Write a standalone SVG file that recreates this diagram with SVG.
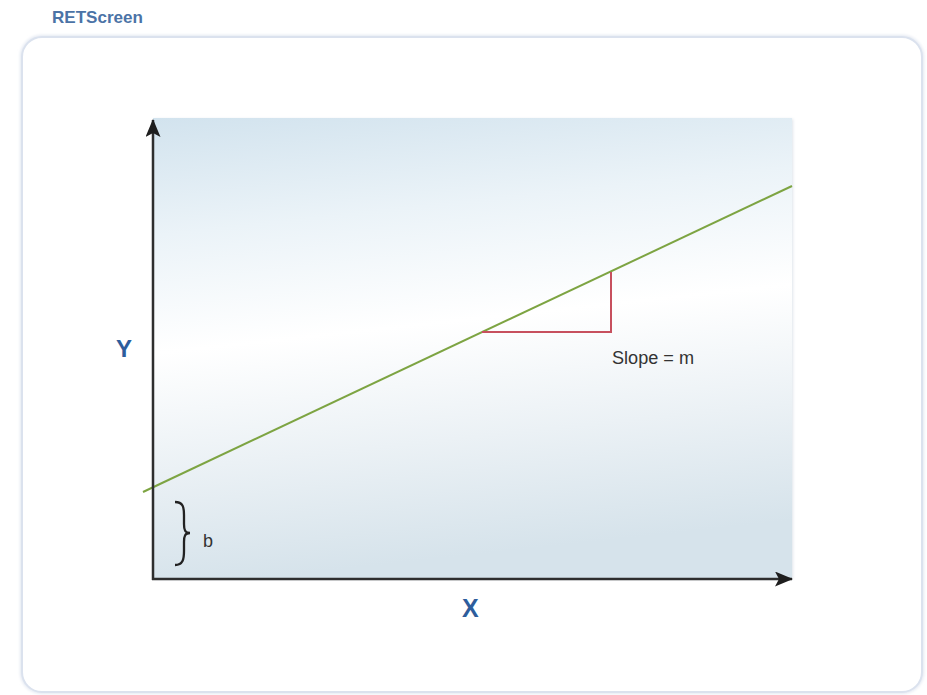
<svg xmlns="http://www.w3.org/2000/svg" width="927" height="695" viewBox="0 0 927 695">
<defs>
<linearGradient id="plotGrad" x1="0" y1="0" x2="0.15" y2="1">
<stop offset="0" stop-color="#d2e3ee"/>
<stop offset="0.25" stop-color="#ebf3f8"/>
<stop offset="0.5" stop-color="#ffffff"/>
<stop offset="0.75" stop-color="#ebf1f5"/>
<stop offset="1" stop-color="#d6e3eb"/>
</linearGradient>
<filter id="soft" x="-5%" y="-5%" width="110%" height="110%">
<feGaussianBlur stdDeviation="1.5"/>
</filter>
<marker id="arrow" viewBox="0 0 18 15" refX="17" refY="7.5" markerWidth="18" markerHeight="15" markerUnits="userSpaceOnUse" orient="auto">
<path d="M0,0 L18,7.5 L0,15 L4,7.5 Z" fill="#1e1e1e"/>
</marker>
<style>
.lbl{font-family:"Liberation Sans",Arial,sans-serif;}
.axis{font-family:"Liberation Sans",Arial,sans-serif;font-weight:bold;fill:#2d5d9c;}
.ax{stroke:#2e2e2e;stroke-width:2.5;fill:none;}
</style>
</defs>
<rect width="927" height="695" fill="#ffffff"/>
<text class="lbl" x="52" y="23" font-size="17" font-weight="bold" fill="#4b73a6" textLength="91" lengthAdjust="spacingAndGlyphs">RETScreen</text>
<g id="frame">
<rect x="22" y="37" width="900" height="655" rx="20" fill="none" stroke="#e3e8f2" stroke-width="4" filter="url(#soft)"/>
<rect x="22" y="37" width="900" height="655" rx="20" fill="#ffffff" stroke="#dbe2ee" stroke-width="2"/>
</g>
<g id="plot">
<rect x="154" y="119" width="639" height="460" fill="#dfe4ea" filter="url(#soft)"/>
<rect x="153" y="118" width="639" height="461" fill="url(#plotGrad)"/>
</g>
<g id="connectors">
<line id="regression-line" x1="143" y1="492" x2="792" y2="186" stroke="#7da442" stroke-width="2"/>
<polyline id="slope-triangle" points="482,332 611,332 611,272" fill="none" stroke="#c7505e" stroke-width="2"/>
<line id="y-axis" class="ax" x1="153" y1="580" x2="153" y2="120" marker-end="url(#arrow)"/>
<line id="x-axis" class="ax" x1="152" y1="579" x2="792" y2="579" marker-end="url(#arrow)"/>
</g>
<g id="brace">
<path d="M175,502 C183,502 184,507 184,515 L184,524 C184,530 185,533 190,533 C185,533 184,536 184,542 L184,551 C184,559 183,565 175,565" fill="none" stroke="#222" stroke-width="2.3"/>
<text class="lbl" x="203" y="547" font-size="18" fill="#333">b</text>
</g>
<g id="slope-label">
<text class="lbl" x="612" y="364" font-size="18" fill="#333" textLength="82" lengthAdjust="spacingAndGlyphs">Slope = m</text>
</g>
<g id="y-label"><text class="axis" x="116" y="357" font-size="24">Y</text></g>
<g id="x-label"><text class="axis" x="462" y="617" font-size="25">X</text></g>
</svg>
